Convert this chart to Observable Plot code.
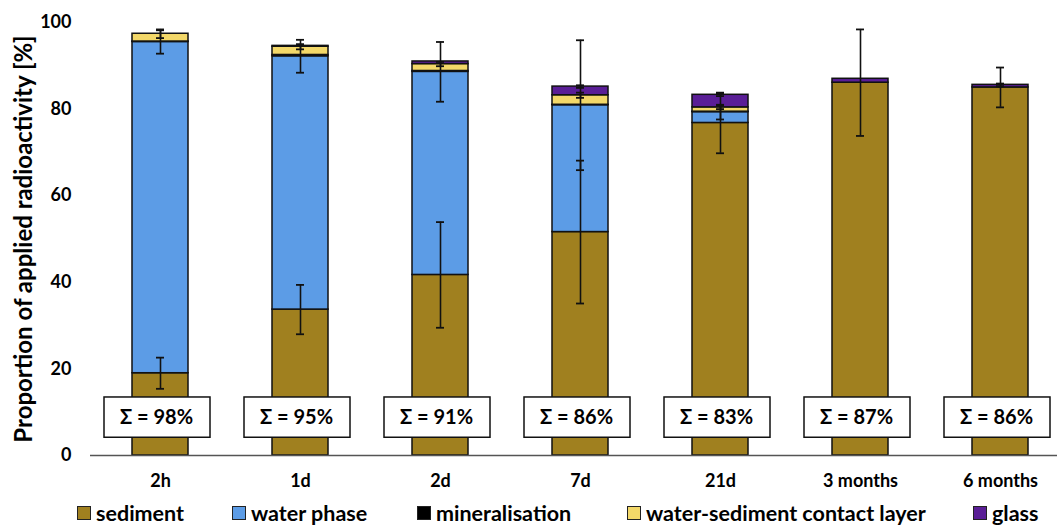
<!DOCTYPE html>
<html><head><meta charset="utf-8">
<script src="https://cdn.jsdelivr.net/npm/d3@7"></script>
<script src="https://cdn.jsdelivr.net/npm/@observablehq/plot@0.6"></script>
<style>
body{margin:0;background:#fff;font-family:Lato,"Open Sans",sans-serif;overflow:hidden;}
#legend{position:relative;width:1057px;height:26px;font-weight:bold;font-size:21.5px;color:#000;}
.item{position:absolute;top:2px;display:flex;align-items:center;white-space:nowrap;line-height:22px;}
.sw{width:14px;height:14px;border:1.5px solid #222;box-sizing:border-box;margin-right:5px;}
</style></head><body>
<div id="chart"></div><div id="legend"></div>
<script>
const categories = ["2h", "1d", "2d", "7d", "21d", "3 months", "6 months"];
const seriesNames = ["sediment", "water phase", "mineralisation", "water-sediment contact layer", "glass"];
const seriesColors = ["#A0801F", "#5C9CE6", "#000000", "#F3D869", "#5A1E96"];

const sediment       = [19.0, 33.7, 41.7, 51.6, 76.8, 86.1, 85.0];
const waterPhase     = [76.5, 58.5, 46.9, 29.3,  2.5,  0.0,  0.0];
const mineralisation = [ 0.1,  0.3,  0.2,  0.1,  0.1,  0.0,  0.0];
const contactLayer   = [ 1.8,  1.9,  1.6,  2.2,  1.0,  0.0,  0.0];
const glass          = [ 0.0,  0.2,  0.6,  2.0,  2.9,  0.9,  0.6];

const sedimentErr     = [3.6, 5.7, 12.2, 16.5, 7.0, 12.3, 4.6];
const waterPhaseErr   = [2.7, 3.8,  6.9, 15.0, 1.7,  0.0, 0.0];
const contactLayerErr = [1.0, 0.6,  0.5,  0.6, 0.4,  0.0, 0.0];
const glassErr        = [0.0, 0.0,  0.0,  0.3, 0.3,  0.0, 0.3];

const totals = [98, 95, 91, 86, 83, 87, 86];
const yTitle = "Proportion of applied radioactivity [%]";

const seriesValues = [sediment, waterPhase, mineralisation, contactLayer, glass];
const seriesErrs = [sedimentErr, waterPhaseErr, null, contactLayerErr, glassErr];

const table = [];
categories.forEach((c, i) => {
  seriesNames.forEach((s, j) => {
    const v = seriesValues[j][i];
    if (v > 0) table.push({cat: c, series: s, value: v});
  });
});

const errs = [];
categories.forEach((c, i) => {
  let cum = 0;
  seriesNames.forEach((s, j) => {
    cum += seriesValues[j][i];
    const e = seriesErrs[j] ? seriesErrs[j][i] : 0;
    if (e > 0) errs.push({cat: c, lo: cum - e, hi: cum + e});
  });
});

const boxLo = 4.1, boxHi = 13.4, boxMid = 8.75;

const chart = Plot.plot({
  width: 1057,
  height: 500,
  marginLeft: 90,
  marginRight: 0,
  marginTop: 22,
  marginBottom: 45,
  style: {fontFamily: "Lato, 'Open Sans', sans-serif", color: "#000", background: "#fff"},
  x: {domain: categories, range: [90, 1070], paddingInner: 0.6, paddingOuter: 0.3, label: null},
  y: {domain: [0, 100], ticks: [0, 20, 40, 60, 80, 100], label: null},
  color: {domain: seriesNames, range: seriesColors},
  marks: [
    Plot.axisX({tickSize: 0, tickPadding: 19, fontSize: 18, fontWeight: "bold", label: null}),
    Plot.axisY({tickSize: 0, tickPadding: 19, fontSize: 18, fontWeight: "bold", label: null,
      ticks: [0, 20, 40, 60, 80, 100]}),
    Plot.text([yTitle], {frameAnchor: "left", textAnchor: "middle", rotate: -90, dx: -66, text: d => d,
      fontSize: 24, fontWeight: "bold", fill: "#000"}),
    Plot.barY(table, {x: "cat", y: "value", fill: "series", order: seriesNames,
      stroke: "#111", strokeWidth: 1.5}),
    Plot.ruleX(errs, {x: "cat", y1: "lo", y2: "hi", stroke: "#111", strokeWidth: 1.6}),
    Plot.tickY(errs, {x: "cat", y: "lo", stroke: "#111", strokeWidth: 1.8, insetLeft: 24, insetRight: 24}),
    Plot.tickY(errs, {x: "cat", y: "hi", stroke: "#111", strokeWidth: 1.8, insetLeft: 24, insetRight: 24}),
    Plot.barY(categories, {x: d => d, y1: boxLo, y2: boxHi, fill: "white", stroke: "#111", strokeWidth: 1.5,
      insetLeft: -25, insetRight: -25, dx: -3}),
    Plot.text(categories, {x: d => d, y: boxMid, text: (d, i) => `Σ = ${totals[i]}%`, dx: -4,
      fontSize: 20, fontWeight: "bold", fill: "#000"}),
    Plot.ruleY([0], {stroke: "#555", strokeWidth: 1.5})
  ]
});
document.getElementById("chart").appendChild(chart);

const legendX = [77, 232, 417, 627, 973];
const legend = document.getElementById("legend");
seriesNames.forEach((s, j) => {
  const item = document.createElement("div");
  item.className = "item";
  item.style.left = legendX[j] + "px";
  const sw = document.createElement("div");
  sw.className = "sw";
  sw.style.background = seriesColors[j];
  item.appendChild(sw);
  const t = document.createElement("span");
  t.textContent = s;
  item.appendChild(t);
  legend.appendChild(item);
});
</script>
</body></html>
